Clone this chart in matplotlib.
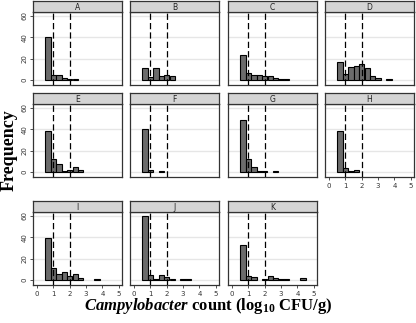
import matplotlib
matplotlib.use("Agg")
import matplotlib.pyplot as plt

# bin left edges (log10 CFU/g), width 1/3
bin_left = [0.5, 0.83, 1.17, 1.5, 1.83, 2.17, 2.5, 2.83, 3.17, 3.5, 3.83, 4.17, 4.5]
bin_width = 1 / 3

panels = ["A", "B", "C", "D", "E", "F", "G", "H", "I", "J", "K"]
counts_A = [40, 5, 5, 2, 1, 1]
counts_B = [11, 3, 11, 4, 5, 4]
counts_C = [23, 7, 5, 5, 4, 4, 2, 1, 1]
counts_D = [17, 6, 12, 13, 15, 11, 4, 2, 0, 1]
counts_E = [38, 12, 8, 1, 2, 5, 2]
counts_F = [40, 2, 0, 1]
counts_G = [49, 12, 5, 1, 1, 0, 1]
counts_H = [38, 4, 1, 2]
counts_I = [39, 11, 6, 8, 4, 6, 2, 0, 0, 1]
counts_J = [60, 5, 1, 5, 3, 1, 0, 1, 1]
counts_K = [33, 4, 3, 0, 1, 4, 2, 1, 1, 0, 0, 2]
all_counts = [counts_A, counts_B, counts_C, counts_D, counts_E, counts_F,
              counts_G, counts_H, counts_I, counts_J, counts_K]

ref_lines = [1, 2]
x_ticks = [0, 1, 2, 3, 4, 5]
y_ticks = [0, 20, 40, 60]

W, H = 416, 323
fig = plt.figure(figsize=(W / 100, H / 100), dpi=100)

plt.rcParams['mathtext.fontset'] = 'custom'
plt.rcParams['mathtext.rm'] = 'Liberation Serif:bold'
plt.rcParams['mathtext.it'] = 'Liberation Serif:italic:bold'
plt.rcParams['mathtext.bf'] = 'Liberation Serif:bold'

col_left = [33, 130, 228, 325]
row_top = [12, 104, 212]
pw, ph = 89, 73
strip_h = 11


def px_box(x, y, w, h):
    return [x / W, 1 - (y + h) / H, w / W, h / H]


for i, (name, counts) in enumerate(zip(panels, all_counts)):
    r, c = divmod(i, 4)
    ax = fig.add_axes(px_box(col_left[c], row_top[r], pw, ph))
    xs = [b for b, n in zip(bin_left, counts) if n > 0]
    hs = [n for n in counts if n > 0]
    ax.bar(xs, hs, width=bin_width, align='edge', color='#6b6b6b',
           edgecolor='black', linewidth=0.8, zorder=3)
    for v in ref_lines:
        ax.axvline(v, color='black', lw=0.9, ls=(0, (5, 2.5)), zorder=4)
    ax.set_xlim(-0.25, 5.2)
    ax.set_ylim(-4.5, 63.5)
    ax.set_yticks(y_ticks)
    ax.set_xticks(x_ticks)
    ax.grid(axis='y', color='#e6e6e6', lw=1.0, zorder=0)
    for s in ax.spines.values():
        s.set_color('#333333')
        s.set_linewidth(0.9)
    ax.tick_params(length=2.5, width=0.6, color='#333333', labelsize=5,
                   pad=1.5, labelcolor='#333333')
    if c == 0:
        ax.tick_params(axis='y', labelrotation=90)
        for lab in ax.get_yticklabels():
            lab.set_va('center')
    else:
        ax.tick_params(axis='y', left=False, labelleft=False)
    if r != 2 and name != "H":
        ax.tick_params(axis='x', bottom=False, labelbottom=False)

    # strip
    sax = fig.add_axes(px_box(col_left[c], row_top[r] - strip_h, pw, strip_h))
    sax.set_xticks([])
    sax.set_yticks([])
    sax.set_facecolor('#d4d4d4')
    for s in sax.spines.values():
        s.set_color('#333333')
        s.set_linewidth(0.9)
    sax.text(0.5, 0.45, name, ha='center', va='center', fontsize=5.5,
             color='#222222', transform=sax.transAxes)

fig.text(9 / W, 1 - 150 / H, "Frequency", rotation=90, ha='center',
         va='center', fontsize=13, fontweight='bold', family='Liberation Serif')
fig.text(208 / W, 1 - 306 / H,
         r"$\mathit{Campylobacter}$ count (log$_{10}$ CFU/g)",
         ha='center', va='center', fontsize=12, fontweight='bold',
         family='Liberation Serif')

fig.savefig("out.png", dpi=100)
